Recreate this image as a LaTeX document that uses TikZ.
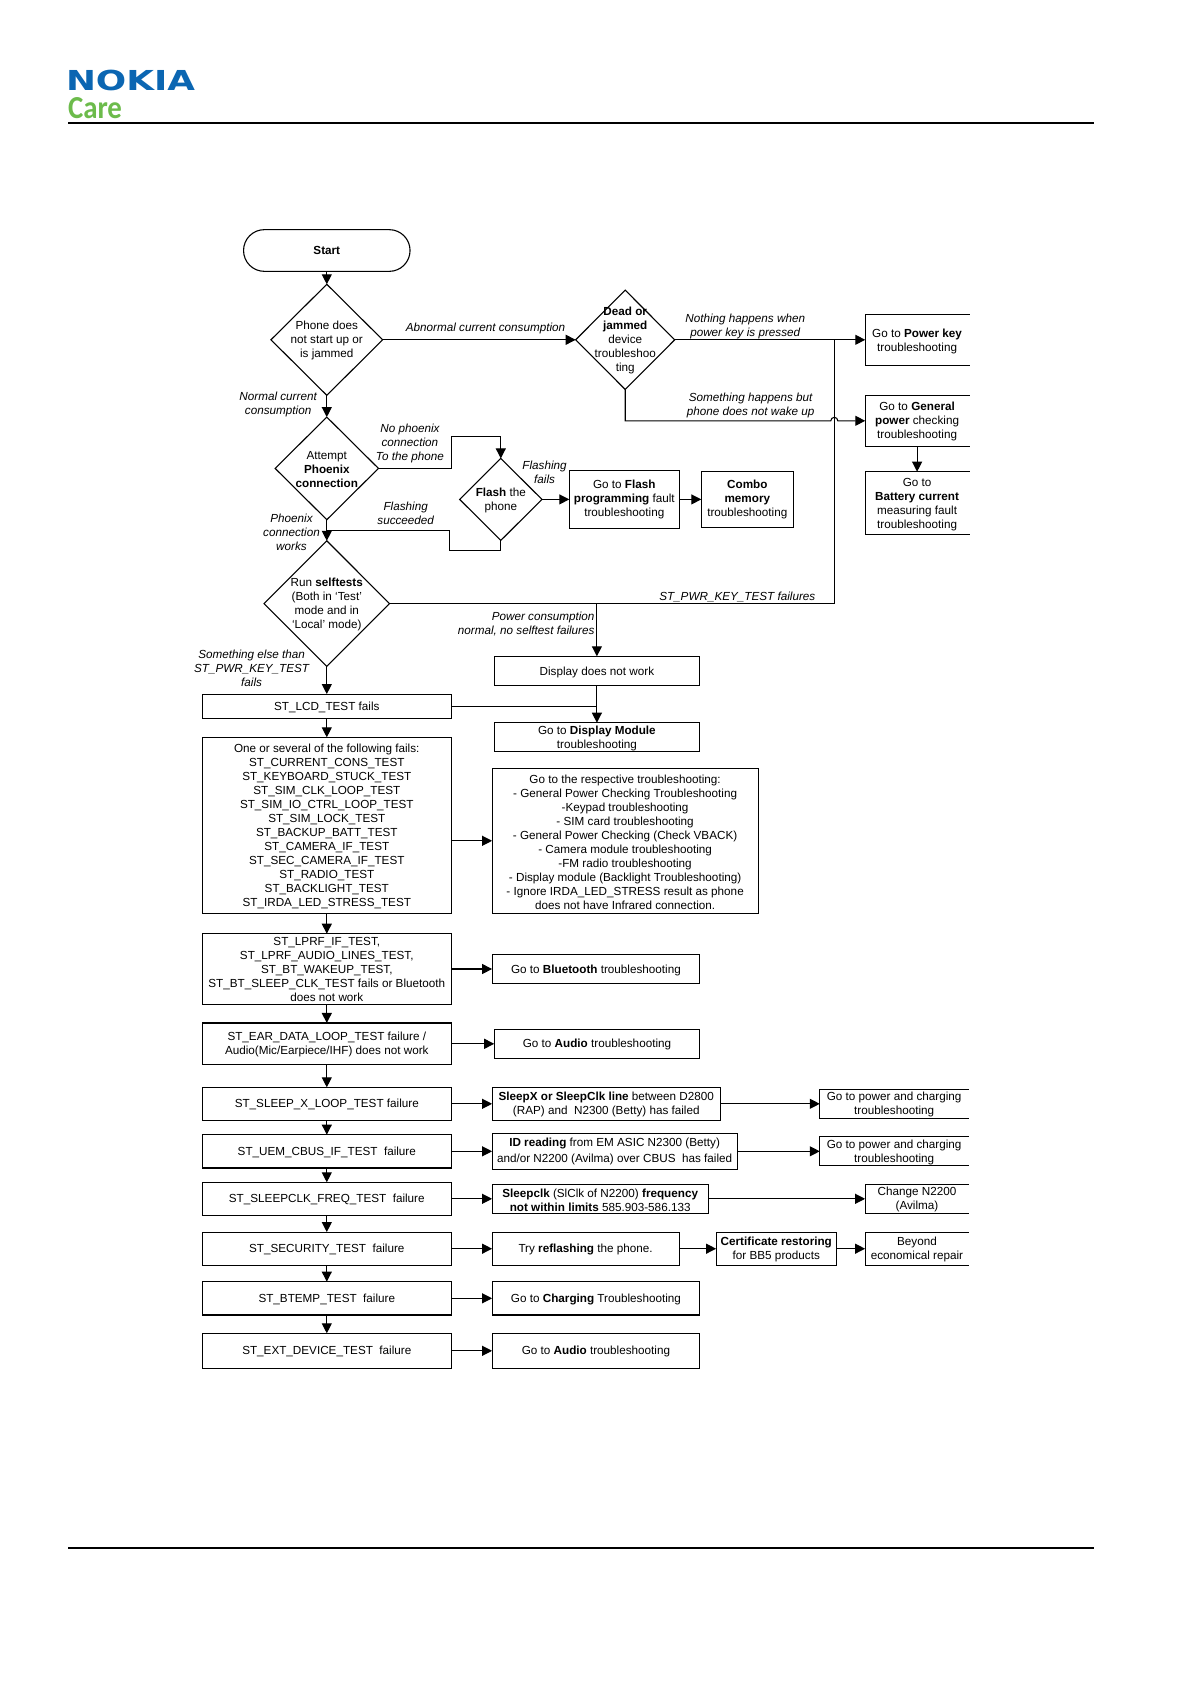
\documentclass[tikz,border=0pt]{standalone}
\usepackage{fontspec}
\usepackage{graphicx}
\setmainfont{Liberation Sans}
\newfontfamily\carefont{Carlito}
\newfontfamily\logofont{DejaVu Sans}
\usetikzlibrary{shapes,arrows.meta}
\definecolor{nokiablue}{HTML}{0B66B2}
\definecolor{caregreen}{HTML}{6CBB4B}
\newcommand{\firstline}{\rule{0pt}{10.6pt}}
\tikzset{
  every node/.style={font=\fontsize{11.7}{14}\selectfont,inner sep=0pt,outer sep=0pt,align=center},
  every label/.style={font=\fontsize{11.7}{14}\selectfont,inner sep=0pt,align=center,yshift=-.7pt},
  lowertext/.style={execute at begin node={\rule{0pt}{10.6pt}}},
  flowbox/.style={rectangle,draw,lowertext},
  testbox/.style={flowbox,minimum width=249.5pt},
  terminator/.style={rectangle,draw,rounded corners=20.8pt},
  decision/.style={diamond,draw},
  lbl/.style={font=\fontsize{11.7}{14}\selectfont\itshape},
  openbox/.style={rectangle,lowertext,append after command={
      (\tikzlastnode.north east) edge[-,line cap=rect] (\tikzlastnode.north west)
      (\tikzlastnode.north west) edge[-,line cap=rect] (\tikzlastnode.south west)
      (\tikzlastnode.south west) edge[-,line cap=rect] (\tikzlastnode.south east)}}
}
\begin{document}
\begin{tikzpicture}[->,>={Triangle[length=10pt,width=10pt]},x=1pt,y=-1pt,line width=1.1pt]
      \useasboundingbox (0,0) rectangle (1191,1684);
      \node [anchor=north west] (nokia) at (66,70.3) {\resizebox{129pt}{20.4pt}{\color{nokiablue}\logofont\bfseries NOKIA}};
      \node [anchor=north west] (care) at (68,97) {\resizebox{54pt}{21pt}{\color{caregreen}\carefont\bfseries Care}};
      \coordinate (topl) at (68,123);
      \coordinate (topr) at (1094,123);
      \coordinate (botl) at (68,1548);
      \coordinate (botr) at (1094,1548);
      \draw [-,line width=2pt] (topl) -- (topr);
      \draw [-,line width=2pt] (botl) -- (botr);

      \node [terminator,minimum width=166.5pt,minimum height=41.7pt] (start) at (326.8,250.5) {\textbf{Start}};
      \node [decision,minimum width=111.7pt,minimum height=111pt,label=center:{Phone does\\not start up or\\is jammed}] (phone) [below of=start,node distance=89.3pt] {};
      \node [decision,minimum width=103.3pt,minimum height=102.6pt,label=center:{Attempt\\\textbf{Phoenix}\\\textbf{connection}}] (phoenix) [below of=phone,node distance=128.6pt] {};
      \node [decision,minimum width=125.5pt,minimum height=125.6pt,label=center:{Run \textbf{selftests}\\(Both in ‘Test’\\mode and in\\‘Local’ mode)}] (selftests) [below of=phoenix,node distance=135.2pt] {};
      \node [decision,minimum width=82.3pt,minimum height=82pt,label=center:{\textbf{Flash} the\\phone}] (flash) [right of=phoenix,node distance=174pt,yshift=-31pt] {};
      \node [decision,minimum width=99pt,minimum height=99.3pt,label=center:{\textbf{Dead or}\\\textbf{jammed}\\device\\troubleshoo\\ting}] (dead) [right of=phone,node distance=298.4pt] {};

      \node [openbox,minimum width=103.7pt,minimum height=50.7pt] (powerkey) [right of=dead,node distance=291.9pt] {\rule{0pt}{12.6pt}Go to \textbf{Power key}\\troubleshooting};
      \node [openbox,minimum width=103.7pt,minimum height=51pt] (general) [below of=powerkey,node distance=81pt] {\firstline Go to \textbf{General}\\\textbf{power} checking\\troubleshooting};
      \node [openbox,minimum width=103.7pt,minimum height=62.6pt] (battery) [below of=general,node distance=82.2pt] {\firstline Go to\\\textbf{Battery current}\\measuring fault\\troubleshooting};
      \node [flowbox,minimum width=110pt,minimum height=58pt] (flashfault) [right of=flash,node distance=123.5pt] {Go to \textbf{Flash}\\\textbf{programming} fault\\troubleshooting};
      \node [flowbox,minimum width=92pt,minimum height=56pt] (combo) [right of=flashfault,node distance=123pt] {\textbf{Combo}\\\textbf{memory}\\troubleshooting};

      \node [flowbox,minimum width=205pt,minimum height=29.4pt] (display) [below of=selftests,node distance=67.4pt,xshift=270.1pt] {Display does not work};
      \node [flowbox,minimum width=205pt,minimum height=29pt] (godisplay) [below of=display,node distance=66.2pt] {\firstline Go to \textbf{Display Module}\\troubleshooting};

      \node [testbox,minimum height=24.3pt] (lcd) [below of=selftests,node distance=102.6pt] {ST\_LCD\_TEST fails};
      \node [testbox,minimum height=176pt] (several) [below of=lcd,node distance=119.1pt] {\firstline One or several of the following fails:\\ST\_CURRENT\_CONS\_TEST\\ST\_KEYBOARD\_STUCK\_TEST\\ST\_SIM\_CLK\_LOOP\_TEST\\ST\_SIM\_IO\_CTRL\_LOOP\_TEST\\ST\_SIM\_LOCK\_TEST\\ST\_BACKUP\_BATT\_TEST\\ST\_CAMERA\_IF\_TEST\\ST\_SEC\_CAMERA\_IF\_TEST\\ST\_RADIO\_TEST\\ST\_BACKLIGHT\_TEST\\ST\_IRDA\_LED\_STRESS\_TEST};
      \node [rectangle,draw,minimum width=249.5pt,minimum height=70.6pt] (lprf) [below of=several,node distance=143.7pt] {ST\_LPRF\_IF\_TEST,\\ST\_LPRF\_AUDIO\_LINES\_TEST,\\ST\_BT\_WAKEUP\_TEST,\\ST\_BT\_SLEEP\_CLK\_TEST fails or Bluetooth\\does not work};
      \node [testbox,minimum height=41.7pt] (ear) [below of=lprf,node distance=74.8pt] {\firstline ST\_EAR\_DATA\_LOOP\_TEST failure /\\Audio(Mic/Earpiece/IHF) does not work};
      \node [testbox,minimum height=33pt] (sleepx) [below of=ear,node distance=60pt] {ST\_SLEEP\_X\_LOOP\_TEST failure};
      \node [testbox,minimum height=33.3pt] (uem) [below of=sleepx,node distance=47.5pt] {ST\_UEM\_CBUS\_IF\_TEST~ failure};
      \node [testbox,minimum height=33pt] (sleepclk) [below of=uem,node distance=47.5pt] {ST\_SLEEPCLK\_FREQ\_TEST~ failure};
      \node [testbox,minimum height=33.3pt] (security) [below of=sleepclk,node distance=49.9pt] {ST\_SECURITY\_TEST~ failure};
      \node [testbox,minimum height=33.3pt] (btemp) [below of=security,node distance=49.6pt] {ST\_BTEMP\_TEST~ failure};
      \node [testbox,minimum height=35pt] (ext) [below of=btemp,node distance=52.5pt] {ST\_EXT\_DEVICE\_TEST~ failure};

      \node [flowbox,minimum width=266pt,minimum height=145pt] (respective) [right of=several,node distance=298.3pt,yshift=-15.5pt] {\firstline Go to the respective troubleshooting:\\- General Power Checking Troubleshooting\\-Keypad troubleshooting\\- SIM card troubleshooting\\- General Power Checking (Check VBACK)\\- Camera module troubleshooting\\-FM radio troubleshooting\\- Display module (Backlight Troubleshooting)\\- Ignore IRDA\_LED\_STRESS result as phone\\does not have Infrared connection.};
      \node [flowbox,minimum width=207.7pt,minimum height=28.6pt] (bluetooth) [right of=lprf,node distance=269.15pt] {Go to \textbf{Bluetooth} troubleshooting};
      \node [flowbox,minimum width=205.6pt,minimum height=29pt] (audio) [right of=ear,node distance=270.2pt] {Go to \textbf{Audio} troubleshooting};
      \node [flowbox,minimum width=228.4pt,minimum height=33.4pt] (sleepline) [right of=sleepx,node distance=279.5pt] {\firstline\textbf{SleepX or SleepClk line} between D2800\\(RAP) and~ N2300 (Betty) has failed};
      \node [flowbox,minimum width=245pt,minimum height=35.7pt] (idreading) [right of=uem,node distance=287.8pt] {\textbf{ID reading} from EM ASIC N2300 (Betty)\\[2.5pt]and/or N2200 (Avilma) over CBUS~ has failed};
      \node [flowbox,minimum width=216.1pt,minimum height=29pt] (clkline) [right of=sleepclk,node distance=273.35pt] {\firstline\textbf{Sleepclk} (SlClk of N2200) \textbf{frequency}\\\textbf{not within limits} 585.903-586.133};
      \node [flowbox,minimum width=187pt,minimum height=33.3pt] (reflash) [right of=security,node distance=258.8pt] {Try \textbf{reflashing} the phone.};
      \node [flowbox,minimum width=207.7pt,minimum height=33.3pt] (charging) [right of=btemp,node distance=269.15pt] {Go to \textbf{Charging} Troubleshooting};
      \node [flowbox,minimum width=207.7pt,minimum height=35pt] (audiotwo) [right of=ext,node distance=269.15pt] {Go to \textbf{Audio} troubleshooting};

      \node [openbox,minimum width=148.7pt,minimum height=29pt] (powerone) [right of=sleepline,node distance=287.85pt] {\firstline Go to power and charging\\troubleshooting};
      \node [openbox,minimum width=148.7pt,minimum height=29pt] (powertwo) [right of=idreading,node distance=279.55pt] {\firstline Go to power and charging\\troubleshooting};
      \node [openbox,minimum width=103.7pt,minimum height=29pt] (change) [right of=clkline,node distance=316.8pt] {\firstline Change N2200\\(Avilma)};
      \node [flowbox,minimum width=120.4pt,minimum height=33.3pt] (certificate) [right of=reflash,node distance=190.7pt] {\firstline\textbf{Certificate restoring}\\for BB5 products};
      \node [openbox,minimum width=103.7pt,minimum height=33.3pt] (beyond) [right of=certificate,node distance=140.65pt] {\firstline Beyond\\economical repair};

      \node [lbl] (noconn) at (409.9,443.8) {No phoenix\\connection\\To the phone};
      \node [lbl] (flashfails) at (544.6,472) {Flashing\\fails};
      \node [lbl] (flashok) at (405.7,513.2) {Flashing\\succeeded};
      \node [lbl] (wakeup) at (750.7,405.7) {Something happens but\\phone does not wake up};
      \node [lbl] (pwrkey) at (737.3,597) {ST\_PWR\_KEY\_TEST failures};
      \node [lbl,anchor=east,align=right] (consumption) at (594.5,624) {Power consumption\\normal, no selftest failures};
      \node [lbl] (somethingelse) at (251.6,668.3) {Something else than\\ST\_PWR\_KEY\_TEST\\fails};

      \coordinate (toflash) at (451.2,436.7);
      \coordinate (backa) at (449.7,550.3);
      \coordinate (backb) at (326.8,530.8);
      \coordinate (hopa) at (830.8,420.8);
      \coordinate (pwrjoin) at (834.3,339.8);
      \coordinate (dispjoin) at (display |- selftests);
      \coordinate (lcdjoin) at (display |- lcd);

      \path
      (start) edge (phone)
      (phone) edge node[lbl,above=6pt,pos=.533] {Abnormal current consumption} (dead)
      (phone) edge node[lbl,left=10pt,pos=.44] {Normal current\\consumption} (phoenix)
      (phoenix) edge node[lbl,left=7pt,pos=.6] {Phoenix\\connection\\works} (selftests)
      (dead) edge node[lbl,above=1pt,pos=.37] {Nothing happens when\\power key is pressed} (powerkey)
      (general) edge (battery)
      (flash) edge (flashfault)
      (flashfault) edge (combo)
      (selftests) edge (lcd)
      (dispjoin) edge (display)
      (display) edge (godisplay)
      (lcd) edge (several)
      (several) edge (lprf)
      (lprf) edge (ear)
      (ear) edge (sleepx)
      (sleepx) edge (uem)
      (uem) edge (sleepclk)
      (sleepclk) edge (security)
      (security) edge (btemp)
      (btemp) edge (ext)
      (several.east |- respective) edge (respective)
      (lprf) edge (bluetooth)
      (ear) edge (audio)
      (sleepx) edge (sleepline)
      (uem) edge (idreading)
      (sleepclk) edge (clkline)
      (security) edge (reflash)
      (btemp) edge (charging)
      (ext) edge (audiotwo)
      (sleepline) edge (powerone)
      (idreading) edge (powertwo)
      (clkline) edge (change)
      (reflash) edge (certificate)
      (certificate) edge (beyond)
      ;
      \draw (phoenix.east) -| (toflash) -| (flash.north);
      \draw [-] (flash.south) |- (backa) |- (backb);
      \draw [-] (selftests.east) -| (pwrjoin);
      \draw [-] (lcd.east) -- (lcdjoin);
      \draw (dead.south) |- (hopa) arc[start angle=180,end angle=0,radius=3.5pt] -- (general.west);
  \end{tikzpicture}
\end{document}
